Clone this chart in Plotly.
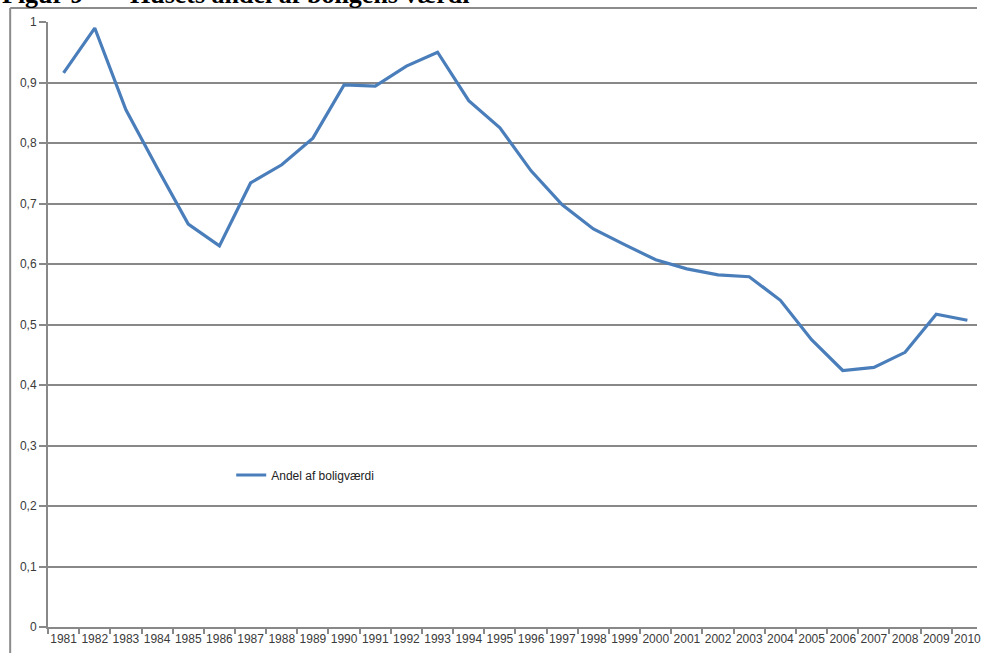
import plotly.graph_objects as go

# Husets andel af boligens værdi, 1981-2010
years = [str(y) for y in range(1981, 2011)]
andel = [0.916, 0.990, 0.855, 0.759, 0.666, 0.630, 0.734, 0.764, 0.808, 0.896,
         0.894, 0.927, 0.950, 0.870, 0.825, 0.754, 0.698, 0.658, 0.632, 0.607,
         0.592, 0.582, 0.579, 0.540, 0.475, 0.424, 0.429, 0.454, 0.517, 0.507]

y_ticks = [0, 0.1, 0.2, 0.3, 0.4, 0.5, 0.6, 0.7, 0.8, 0.9, 1.0]
y_ticktext = ["0", "0,1", "0,2", "0,3", "0,4", "0,5", "0,6", "0,7", "0,8", "0,9", "1"]

series_name = "Andel af boligværdi"
title_left = "Figur 9 –"
title_right = "Husets andel af boligens værdi"

W, H = 981, 653
ML, MR, MT, MB = 48, 0, 22, 26
PW = W - ML - MR
PH = H - MT - MB


def px_x(px):
    return (px - ML) / PW


def px_y(py):
    return 1 + (MT - py) / PH


fig = go.Figure()
fig.add_trace(go.Scatter(
    x=years, y=andel, mode="lines", name=series_name,
    line=dict(color="#4A7EBB", width=3.2),
))

tick_font = dict(family="Liberation Sans, Arial, sans-serif", size=12, color="#3a3a3a")
grid_col = "#888888"
frame_line = dict(color="#8c8c8c", width=2)

fig.update_layout(
    width=W, height=H,
    margin=dict(l=ML, r=MR, t=MT, b=MB, pad=0),
    paper_bgcolor="white", plot_bgcolor="white",
    showlegend=True,
    legend=dict(
        x=px_x(232), y=px_y(475), xanchor="left", yanchor="middle",
        font=dict(family="Liberation Sans, Arial, sans-serif", size=12, color="#222222"),
        bgcolor="rgba(0,0,0,0)", borderwidth=0, itemwidth=30,
    ),
    xaxis=dict(
        type="category", range=[-0.5, -0.5 + PW / 31.3],
        showgrid=False, showline=True, linecolor=grid_col, linewidth=2,
        ticks="outside", tickson="boundaries", ticklen=5, tickcolor=grid_col, tickwidth=1.5,
        tickfont=tick_font, tickangle=0, fixedrange=True,
    ),
    yaxis=dict(
        range=[0, 1], tickvals=y_ticks, ticktext=y_ticktext,
        showgrid=True, gridcolor=grid_col, gridwidth=1.5,
        showline=True, linecolor=grid_col, linewidth=2,
        ticks="outside", ticklen=7, tickcolor=grid_col, tickwidth=1.5,
        tickfont=tick_font, zeroline=False, fixedrange=True,
    ),
    shapes=[
        # chart frame, left edge
        dict(type="line", xref="paper", yref="paper", layer="below",
             x0=px_x(10), x1=px_x(10), y0=px_y(H), y1=px_y(8), line=frame_line),
        # chart frame, top edge
        dict(type="line", xref="paper", yref="paper", layer="below",
             x0=px_x(10), x1=px_x(W), y0=px_y(8), y1=px_y(8), line=frame_line),
    ],
    annotations=[
        dict(text="<b>" + title_left + "</b>", xref="paper", yref="paper",
             x=px_x(0), y=px_y(11), xanchor="left", yanchor="bottom", showarrow=False,
             font=dict(family="Liberation Serif, Times New Roman, serif", size=26, color="black")),
        dict(text="<b>" + title_right + "</b>", xref="paper", yref="paper",
             x=px_x(128), y=px_y(11), xanchor="left", yanchor="bottom", showarrow=False,
             font=dict(family="Liberation Serif, Times New Roman, serif", size=26, color="black")),
    ],
)

fig.write_html("out.html")
